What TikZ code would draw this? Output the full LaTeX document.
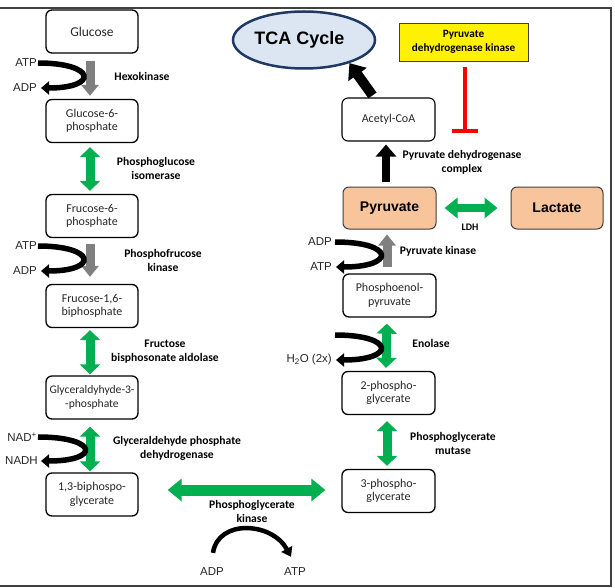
\documentclass[tikz,border=0pt]{standalone}
\usepackage{fontspec}
\setmainfont{Carlito}
\newfontfamily\arialf{Liberation Sans}
\usetikzlibrary{arrows.meta,shapes.geometric,calc}
\definecolor{peach}{HTML}{F8C49C}
\definecolor{tcafill}{HTML}{DCE6F2}
\definecolor{tcaline}{HTML}{1F3864}
\definecolor{grn}{HTML}{00B050}
\definecolor{txt}{HTML}{262626}
\definecolor{framec}{HTML}{404040}
\begin{document}
\begin{tikzpicture}[x=1pt,y=-1pt,
  box/.style={draw, rounded corners=6pt, line width=1.3pt, minimum width=92pt, minimum height=43pt,
    align=center, inner sep=1pt, text=txt, font=\fontsize{12}{13.5}\selectfont},
  pbox/.style={draw=framec, fill=peach, rounded corners=6pt, line width=1pt, minimum width=93pt, minimum height=42pt,
    inner sep=1pt, font=\arialf\bfseries\fontsize{14}{16}\selectfont},
  lab/.style={align=center, inner sep=0pt, font=\bfseries\fontsize{11.6}{14}\selectfont},
  chem/.style={inner sep=0pt, text=txt, font=\arialf\fontsize{11.5}{13}\selectfont},
  grayarr/.style={draw=gray, line width=9pt, -{Triangle[width=17pt,length=11pt]}},
  grnarr/.style={draw=grn, line width=9pt, {Triangle[width=20pt,length=10pt]}-{Triangle[width=20pt,length=10pt]}},
  blkarr/.style={draw=black, line width=8pt, -{Triangle[width=20pt,length=12pt]}},
  curv/.style={draw=black, line width=5.5pt, -{Triangle[width=13pt,length=8pt]}},
]
\useasboundingbox (0,0) rectangle (615,588);
% frame
\draw[framec, line width=1.3pt] (0,8) -- (611,8) -- (611,586) -- (0,586);

% left column boxes
\node[box, font=\fontsize{13.5}{15}\selectfont] (glu) at (92,31.5) {Glucose};
\node[box] (g6p) at (92,121) {Glucose-6-\\phosphate};
\node[box] (f6p) at (92,216) {Frucose-6-\\phosphate};
\node[box] (f16) at (92,306) {Frucose-1,6-\\biphosphate};
\node[box, font=\fontsize{11.6}{13.5}\selectfont] (g3p) at (92,397.5) {Glyceraldyhyde-3-\\-phosphate};
\node[box] (bpg) at (92,494.5) {1,3-biphospo-\\glycerate};

% right column boxes
\node[box, minimum width=93pt, line width=1.1pt] (acoa) at (388.5,119.5) {Acetyl-CoA};
\node[pbox] (pyr) at (389.5,208) {Pyruvate};
\node[pbox, minimum width=92pt] (lac) at (557,208) {Lactate};
\node[box, minimum width=93pt] (pep) at (389.5,295.5) {Phosphoenol-\\pyruvate};
\node[box, minimum width=93pt] (pg2) at (388.5,393) {2-phospho-\\glycerate};
\node[box, minimum width=93pt] (pg3) at (388.5,491) {3-phospho-\\glycerate};

% TCA and PDK
\node[ellipse, draw=tcaline, fill=tcafill, line width=2.5pt, minimum width=142pt, minimum height=57pt, inner sep=0pt,
  font=\arialf\bfseries\fontsize{18}{20}\selectfont] (tca) at (304,40) {TCA Cycle\hspace*{9pt}};
\node[draw=framec, fill=yellow, line width=0.8pt, minimum width=129pt, minimum height=38pt, align=center, inner sep=1pt,
  font=\bfseries\fontsize{11.2}{14}\selectfont] (yel) at (463.5,42) {Pyruvate\\dehydrogenase kinase};

% enzyme labels
\node[lab] (hk) at (142,76) {Hexokinase};
\node[lab] (pgi) at (156,168.5) {Phosphoglucose\\isomerase};
\node[lab] (pfk) at (163,260) {Phosphofrucose\\kinase};
\node[lab] (ald) at (165,351.5) {Fructose\\bisphosonate aldolase};
\node[lab] (gapdh) at (177,448) {Glyceraldehyde phosphate\\dehydrogenase};
\node[lab] (pgk) at (252,511) {Phosphoglycerate\\kinase};
\node[lab] (pdh) at (462,162.5) {Pyruvate dehydrogenase\\complex};
\node[lab, font=\bfseries\fontsize{10}{11}\selectfont] (ldh) at (470,227) {LDH};
\node[lab] (pk) at (438,251) {Pyruvate kinase};
\node[lab] (eno) at (431,343) {Enolase};
\node[lab] (pgm) at (453,443) {Phosphoglycerate\\mutase};

% cofactor texts
\node[chem, anchor=east] (atp1) at (37,63) {ATP};
\node[chem, anchor=east] (adp1) at (37,88) {ADP};
\node[chem, anchor=east] (atp2) at (37,246) {ATP};
\node[chem, anchor=east] (adp2) at (37,271) {ADP};
\node[chem, anchor=east] (nad) at (37,437) {NAD\textsuperscript{+}};
\node[chem, anchor=east] (nadh) at (38,461) {NADH};
\node[chem, anchor=east] (adp3) at (332,242) {ADP};
\node[chem, anchor=east] (atp3) at (332,267) {ATP};
\node[chem, anchor=east] (h2o) at (332,360) {H\textsubscript{2}O (2x)};
\coordinate (enst) at (335,335);
\node[chem] (adp4) at (212,572) {ADP};
\node[chem] (atp4) at (295,572) {ATP};

% main pathway arrows (left)
\draw[grayarr, shorten <=7pt, shorten >=3pt] ([xshift=-2pt]glu.south) -- ([xshift=-2pt]g6p.north);
\draw[grnarr, shorten <=4pt, shorten >=3pt] ([xshift=-2pt]g6p.south) -- ([xshift=-2pt]f6p.north);
\draw[grayarr, shorten <=6pt, shorten >=7pt] ([xshift=-2pt]f6p.south) -- ([xshift=-2pt]f16.north);
\draw[grnarr, shorten <=2pt, shorten >=1pt] ([xshift=-2pt]f16.south) -- ([xshift=-2pt]g3p.north);
\draw[grnarr, shorten <=7pt, shorten >=1pt] ([xshift=-2pt]g3p.south) -- ([xshift=-2pt]bpg.north);
\draw[draw=grn, line width=11pt, {Triangle[width=22pt,length=14pt]}-{Triangle[width=22pt,length=14pt]},
  shorten <=29pt, shorten >=16pt] ([yshift=4.5pt]bpg.east) -- ([yshift=4.5pt]bpg.east -| pg3.west);

% main pathway arrows (right)
\draw[grnarr, shorten <=3pt, shorten >=6pt] ([xshift=-1.5pt]pg3.north) -- ([xshift=-1.5pt]pg2.south);
\draw[grnarr, shorten <=3pt, shorten >=6pt] ([xshift=-2.5pt]pg2.north) -- ([xshift=-2.5pt]pep.south);
\draw[grayarr, shorten <=6pt, shorten >=5pt] ([xshift=-2.5pt]pep.north) -- ([xshift=-2.5pt]pyr.south);
\draw[blkarr, shorten <=5pt, shorten >=3pt] ([xshift=-3.5pt]pyr.north) -- ([xshift=-2.5pt]acoa.south);
\draw[blkarr, line width=10pt, -{Triangle[width=22pt,length=14pt]}] ([xshift=-16pt,yshift=2pt]acoa.north) -- (tca.-27);
\draw[draw=grn, line width=8pt, {Triangle[width=20pt,length=13pt]}-{Triangle[width=20pt,length=13pt]},
  shorten <=8pt, shorten >=13pt] (pyr.east) -- (lac.west);

% inhibition
\coordinate (inh) at (465,131);
\draw[red, line width=3.5pt, shorten <=6pt] (yel.south -| inh) -- (inh);
\draw[red, line width=4pt] ([xshift=-13pt]inh) -- ([xshift=13pt]inh);

% cofactor curved arrows
\draw[curv] ([xshift=1pt]atp1.east) .. controls +(58,0) and +(58,0) .. ([xshift=4pt]adp1.east);
\draw[curv] ([xshift=1pt]atp2.east) .. controls +(58,0) and +(58,0) .. ([xshift=4pt]adp2.east);
\draw[curv] ([xshift=1pt]nad.east) .. controls +(60,0) and +(60,0) .. ([xshift=3pt]nadh.east);
\draw[curv] ([xshift=3pt]adp3.east) .. controls +(60,0) and +(60,0) .. ([xshift=4pt]atp3.east);
\draw[curv] (enst) .. controls +(60,0) and +(60,0) .. ([xshift=4pt]h2o.east);
\draw[draw=black, line width=4.5pt, -{Triangle[width=12pt,length=9pt]}]
  ($(adp4.north)+(1,-15)$) .. controls +(5,-34) and +(-19,-35) .. ($(atp4.north)+(-4,-11)$);
\end{tikzpicture}
\end{document}
